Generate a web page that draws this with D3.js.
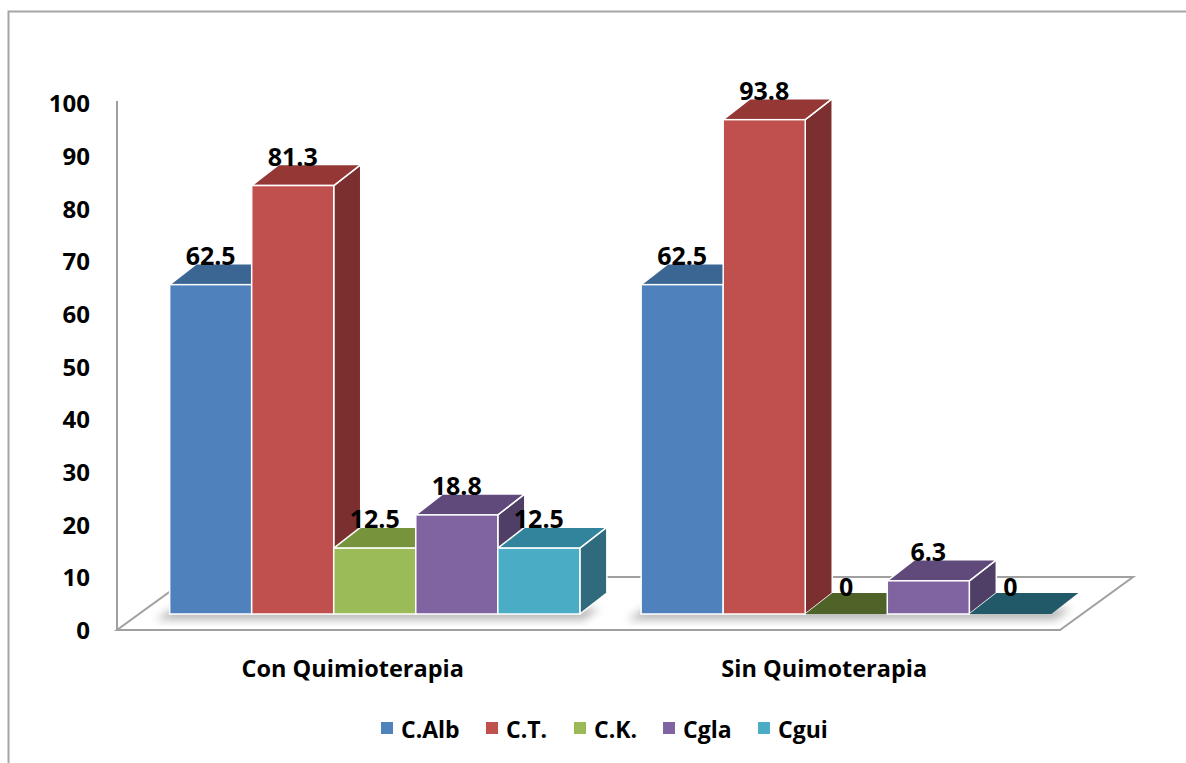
<!DOCTYPE html>
<html>
<head>
<meta charset="utf-8">
<script src="https://cdn.jsdelivr.net/npm/d3@7"></script>
<style>
  html, body { margin: 0; padding: 0; background: #fff; }
  svg { display: block; }
  text { font-family: "Open Sans", "Noto Sans", sans-serif; font-weight: bold; fill: #000; }
</style>
</head>
<body>
<svg id="chart" width="1186" height="763"></svg>
<script>
// ---- data ----
const categories = ["Con Quimioterapia", "Sin Quimoterapia"];
const seriesNames = ["C.Alb", "C.T.", "C.K.", "Cgla", "Cgui"];
const conQuimio = [62.5, 81.3, 12.5, 18.8, 12.5];
const sinQuimio = [62.5, 93.8, 0, 6.3, 0];
const yTicks = [0, 10, 20, 30, 40, 50, 60, 70, 80, 90, 100];

// ---- styles ----
const frontColors = ["#4F81BD", "#C0504D", "#9BBB59", "#8064A2", "#4BACC6"];
const topColors   = ["#3B6592", "#943735", "#77933C", "#5F4A7B", "#31849B"];
const sideColors  = ["#2F5176", "#7B2F2E", "#617A30", "#4F3F66", "#2F6B7C"];
const zeroColors  = ["#25405F", "#632523", "#4F6228", "#3F3151", "#215968"];

const svg = d3.select("#chart");

// frame
svg.append("path")
  .attr("d", "M8.5,775 L8.5,11.5 L1200,11.5")
  .attr("fill", "none").attr("stroke", "#A5A5A5").attr("stroke-width", 2);

// geometry
const axisX = 117;
const y = d3.scaleLinear().domain([0, 100]).range([630, 103]);
const floorDepth = { dx: 73, dy: -53 };   // full floor depth
const barOffset = { dx: 22, dy: -16 };    // bar front plane offset from axis plane
const barDepth = { dx: 27, dy: -21 };     // bar depth
const floorLeft = 117, floorRight = 1060;

const x0 = d3.scaleBand().domain(categories)
  .range([floorLeft + barOffset.dx, floorRight + barOffset.dx])
  .paddingInner(0.13).paddingOuter(0.065);
const x1 = d3.scaleBand().domain(seriesNames).range([0, x0.bandwidth()]);

const yb = v => y(v) + barOffset.dy;

// defs: shadow blur
const defs = svg.append("defs");
defs.append("filter").attr("id", "blur").attr("x", "-20%").attr("y", "-50%").attr("width", "140%").attr("height", "200%")
  .append("feGaussianBlur").attr("stdDeviation", 4);

// floor
const fy0 = y(0);
svg.append("polygon")
  .attr("points", [
    [floorLeft, fy0],
    [floorRight, fy0],
    [floorRight + floorDepth.dx, fy0 + floorDepth.dy],
    [floorLeft + floorDepth.dx, fy0 + floorDepth.dy]
  ].map(p => p.join(",")).join(" "))
  .attr("fill", "#fff").attr("stroke", "#A0A0A0").attr("stroke-width", 2);

// axis line
svg.append("line")
  .attr("x1", axisX).attr("x2", axisX)
  .attr("y1", y(100) - 2).attr("y2", y(0))
  .attr("stroke", "#A0A0A0").attr("stroke-width", 2);

// y axis labels via d3 axis
const yAxis = d3.axisLeft(y).tickValues(yTicks).tickSize(0).tickPadding(0).tickFormat(d3.format("d"));
const gy = svg.append("g").attr("transform", "translate(90,0)").call(yAxis);
gy.select(".domain").remove();
gy.selectAll("text").style("font-size", "24px").style("font-family", "'Open Sans', sans-serif")
  .style("font-weight", "bold").attr("fill", "#000").attr("dy", "0.36em");

// bars
const data = [conQuimio, sinQuimio];
categories.forEach((cat, ci) => {
  const g = svg.append("g");
  const gx = x0(cat);
  const bw = x0.bandwidth();
  const base = yb(0);
  // shadow
  g.append("polygon")
    .attr("points", [
      [gx - 14, base + 6], [gx + bw + 4, base + 6],
      [gx + bw + 20, base - 6], [gx + 4, base - 6]
    ].map(p => p.join(",")).join(" "))
    .attr("fill", "#7f7f7f").attr("opacity", 0.55).attr("filter", "url(#blur)");

  data[ci].forEach((v, si) => {
    const name = seriesNames[si];
    const xl = gx + x1(name);
    const xr = xl + x1.bandwidth();
    const yt = yb(v);
    const d = barDepth;
    if (v > 0) {
      // side
      g.append("polygon")
        .attr("points", [[xr, base], [xr + d.dx, base + d.dy], [xr + d.dx, yt + d.dy], [xr, yt]].map(p => p.join(",")).join(" "))
        .attr("fill", sideColors[si]).attr("stroke", "#fff").attr("stroke-width", 1.5).attr("stroke-linejoin", "round");
      // top
      g.append("polygon")
        .attr("points", [[xl, yt], [xr, yt], [xr + d.dx, yt + d.dy], [xl + d.dx, yt + d.dy]].map(p => p.join(",")).join(" "))
        .attr("fill", topColors[si]).attr("stroke", "#fff").attr("stroke-width", 1.5).attr("stroke-linejoin", "round");
      // front
      g.append("rect")
        .attr("x", xl).attr("y", yt).attr("width", xr - xl).attr("height", base - yt)
        .attr("fill", frontColors[si]).attr("stroke", "#fff").attr("stroke-width", 1.5);
    } else {
      g.append("polygon")
        .attr("points", [[xl, base], [xr, base], [xr + d.dx, base + d.dy], [xl + d.dx, base + d.dy]].map(p => p.join(",")).join(" "))
        .attr("fill", zeroColors[si]).attr("stroke", "none");
    }
  });
  // labels
  data[ci].forEach((v, si) => {
    const name = seriesNames[si];
    const cx = gx + x1(name) + x1.bandwidth() / 2;
    g.append("text")
      .attr("x", cx).attr("y", yb(v) + barDepth.dy + (v > 0 ? 1 : 3))
      .attr("text-anchor", "middle")
      .style("font-size", "25px")
      .text(d3.format("")(v));
  });
  // category label
  svg.append("text")
    .attr("x", gx + bw / 2 - barOffset.dx)
    .attr("y", 677)
    .attr("text-anchor", "middle")
    .style("font-size", "23.5px")
    .text(cat);
});

// legend
const legendX = [381, 486, 574, 663, 758];
const lg = svg.append("g");
seriesNames.forEach((n, i) => {
  lg.append("rect").attr("x", legendX[i]).attr("y", 722).attr("width", 12).attr("height", 12)
    .attr("fill", frontColors[i]);
  lg.append("text").attr("x", legendX[i] + 20).attr("y", 738)
    .style("font-size", "23px").text(n);
});
</script>
</body>
</html>
